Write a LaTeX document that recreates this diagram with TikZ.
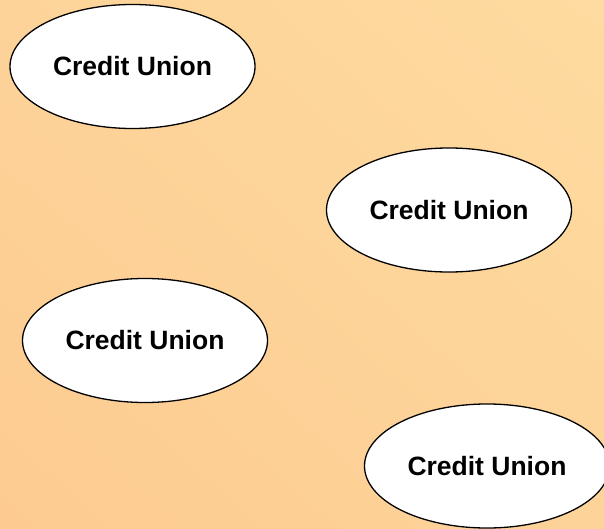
\documentclass[tikz,border=0pt]{standalone}
\usepackage{fontspec}
\setmainfont{Liberation Sans}
\usetikzlibrary{shapes.geometric,shadings}
\definecolor{bgdark}{HTML}{FDCB91}
\definecolor{bgmid}{HTML}{FDD399}
\definecolor{bglight}{HTML}{FEDBA0}
\tikzset{
  cu/.style={ellipse, draw=black, line width=1.3pt, fill=white,
    minimum width=245pt, minimum height=124pt, inner sep=0pt,
    font=\fontsize{26.5}{30}\selectfont\bfseries}
}
\begin{document}
\begin{tikzpicture}[x=1pt,y=-1pt]
  % soft peach background, darker towards the lower left
  \shade[lower left=bgdark, upper left=bgmid, lower right=bgmid, upper right=bglight]
    (0,0) rectangle (604,529);
  \useasboundingbox (0,0) rectangle (604,529);
  \node[cu] (cu1) at (132.5,66.5) {Credit Union};
  \node[cu] (cu2) at (449,210) {Credit Union};
  \node[cu] (cu3) at (145,340.5) {Credit Union};
  \node[cu] (cu4) at (487,466) {Credit Union};
\end{tikzpicture}
\end{document}
